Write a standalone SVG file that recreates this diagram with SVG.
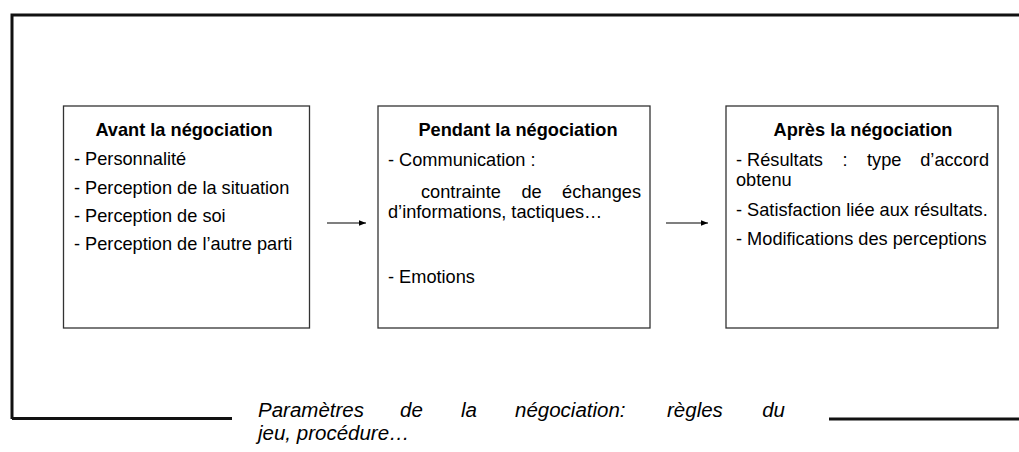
<svg xmlns="http://www.w3.org/2000/svg" width="1019" height="452" viewBox="0 0 1019 452">
<defs>
<style>
.box{fill:#fff;stroke:#333;stroke-width:1.3}
.frame{fill:none;stroke:#111;stroke-width:3}
.t{font-family:"Liberation Sans",Arial,sans-serif;font-size:18.2px;fill:#000}
.b{font-weight:bold}
.it{font-family:"Liberation Sans",Arial,sans-serif;font-size:20.5px;font-style:italic;fill:#000}
.conn{stroke:#000;stroke-width:1.2;fill:none}
</style>
<marker id="ah" viewBox="0 0 10 10" refX="10" refY="5" markerWidth="7" markerHeight="7" markerUnits="userSpaceOnUse" orient="auto">
<path d="M0,1 L10,5 L0,9 z" fill="#000"/>
</marker>
</defs>
<rect width="1019" height="452" fill="#fff"/>
<g id="frame">
<path class="frame" d="M12,419 L12,15 L1019,15"/>
<path class="frame" d="M12,418.5 L232,418.5"/>
<path class="frame" d="M829,419 L1019,419"/>
<text class="it"><tspan x="258" y="417">Paramètres</tspan><tspan x="400" y="417">de</tspan><tspan x="461" y="417">la</tspan><tspan x="515" y="417">négociation:</tspan><tspan x="667" y="417">règles</tspan><tspan x="785" y="417" text-anchor="end">du</tspan><tspan x="258" y="440">jeu, procédure…</tspan></text>
</g>
<g id="avant">
<rect class="box" x="63.5" y="106" width="246" height="222"/>
<text class="t b" x="184" y="136" text-anchor="middle">Avant la négociation</text>
<text class="t" x="74" y="165">- Personnalité</text>
<text class="t" x="74" y="193.5">- Perception de la situation</text>
<text class="t" x="74" y="221.5">- Perception de soi</text>
<text class="t" x="74" y="249.5">- Perception de l’autre parti</text>
</g>
<g id="pendant">
<rect class="box" x="378" y="106" width="272" height="222"/>
<text class="t b" x="518" y="136" text-anchor="middle">Pendant la négociation</text>
<text class="t" x="388" y="166">- Communication :</text>
<text class="t"><tspan x="421" y="198">contrainte</tspan><tspan x="521.5" y="198">de</tspan><tspan x="641" y="198" text-anchor="end">échanges</tspan></text>
<text class="t" x="388" y="218">d’informations, tactiques…</text>
<text class="t" x="388" y="283">- Emotions</text>
</g>
<g id="apres">
<rect class="box" x="726" y="106" width="272" height="222"/>
<text class="t b" x="863" y="136" text-anchor="middle">Après la négociation</text>
<text class="t"><tspan x="736" y="165.5">- Résultats</tspan><tspan x="842.5" y="165.5">:</tspan><tspan x="867" y="165.5">type</tspan><tspan x="989" y="165.5" text-anchor="end">d’accord</tspan></text>
<text class="t" x="736" y="186">obtenu</text>
<text class="t" x="736" y="216">- Satisfaction liée aux résultats.</text>
<text class="t" x="736" y="244.5">- Modifications des perceptions</text>
</g>
<g id="connectors">
<line class="conn" x1="327" y1="223" x2="366" y2="223" marker-end="url(#ah)"/>
<line class="conn" x1="666" y1="223" x2="708" y2="223" marker-end="url(#ah)"/>
</g>
</svg>
